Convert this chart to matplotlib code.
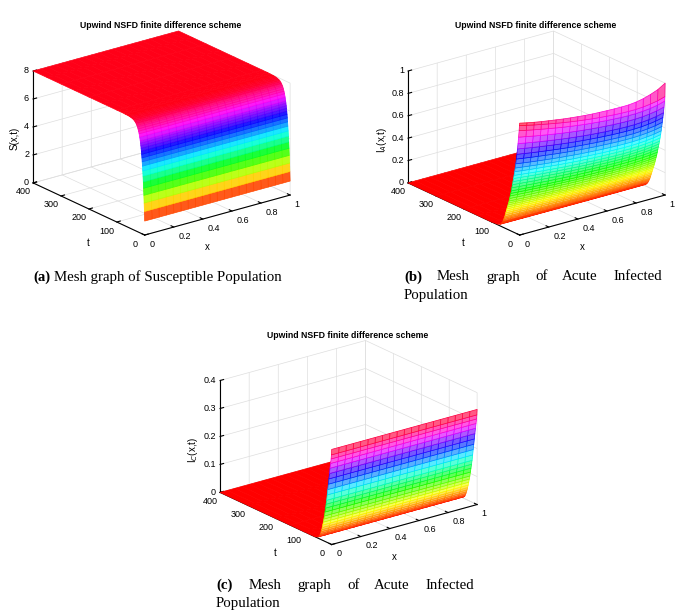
import numpy as np
import matplotlib
matplotlib.use("Agg")
import matplotlib.pyplot as plt
from matplotlib import colors

W, H = 680, 614
plt.rcParams['font.family'] = ['Liberation Sans', 'DejaVu Sans']

# mesh grid along x
x_grid = np.linspace(0, 1, 21)

# ---- (a) S(x,t): same profile for every x
t_S = [0, 1, 2, 3, 4, 5, 6, 7, 8, 9, 10, 11, 12, 13, 14, 15, 16, 18, 20, 22, 24,
       26, 28, 30, 33, 36, 40, 45, 50, 55, 60, 70, 80, 100, 150, 200, 250, 300, 350, 400]
S_t = [1.00, 1.67, 2.27, 2.81, 3.31, 3.75, 4.16, 4.52, 4.85, 5.15, 5.42, 5.67, 5.89,
       6.09, 6.27, 6.44, 6.59, 6.84, 7.05, 7.22, 7.36, 7.48, 7.57, 7.65, 7.74, 7.81,
       7.87, 7.92, 7.95, 7.97, 7.98, 7.99, 8.0, 8.0, 8.0, 8.0, 8.0, 8.0, 8.0, 8.0]

# ---- (b) I_A(x,t)
t_IA = [0, 1, 2, 4, 6, 8, 10, 12, 14, 16, 18, 20, 22, 24, 26, 28, 30, 32, 34, 36, 38,
        40, 42, 44, 46, 48, 50, 52, 54, 56, 58, 60, 65, 70, 80, 100, 150, 200, 300, 400]
IA_t = [1.0, 0.976, 0.93, 0.87, 0.81, 0.76, 0.71, 0.665, 0.62, 0.58, 0.545, 0.51, 0.48,
        0.45, 0.42, 0.39, 0.36, 0.335, 0.31, 0.285, 0.26, 0.24, 0.22, 0.2, 0.18, 0.16,
        0.14, 0.12, 0.1, 0.085, 0.07, 0.055, 0.03, 0.015, 0.005, 0.0, 0.0, 0.0, 0.0, 0.0]
IA_x = [1.0, 0.985, 0.97, 0.956, 0.943, 0.93, 0.918, 0.907, 0.897, 0.888, 0.88, 0.873,
        0.867, 0.862, 0.858, 0.856, 0.856, 0.86, 0.868, 0.88, 0.9]
IA_init = [1.0, 0.985, 0.972, 0.96, 0.95, 0.94, 0.93, 0.922, 0.915, 0.908, 0.903, 0.9,
           0.897, 0.895, 0.894, 0.895, 0.902, 0.915, 0.935, 0.96, 1.0]

# ---- (c) I_C(x,t): same profile for every x
t_IC = [0, 1, 2, 4, 6, 8, 10, 12, 14, 16, 18, 20, 22, 24, 26, 28, 30, 32, 34, 36, 38,
        40, 42, 44, 48, 55, 60, 80, 100, 150, 200, 300, 400]
IC_t = [0.34, 0.32, 0.305, 0.288, 0.27, 0.25, 0.23, 0.21, 0.19, 0.17, 0.15, 0.135,
        0.12, 0.105, 0.09, 0.078, 0.066, 0.055, 0.045, 0.036, 0.028, 0.021, 0.015,
        0.01, 0.005, 0.002, 0.0, 0.0, 0.0, 0.0, 0.0, 0.0, 0.0]

x_ticks = [0, 0.2, 0.4, 0.6, 0.8, 1]
x_ticklabels = ['0', '0.2', '0.4', '0.6', '0.8', '1']
t_ticks = [0, 100, 200, 300, 400]
t_ticklabels = ['0', '100', '200', '300', '400']
title = 'Upwind NSFD finite difference scheme'


def mesh(ax, t, Z, light):
    X, T = np.meshgrid(x_grid, t)
    zc = (Z[:-1, :-1] + Z[1:, :-1] + Z[:-1, 1:] + Z[1:, 1:]) / 4
    norm = colors.Normalize(Z.min(), Z.max())
    ec = plt.cm.hsv(norm(zc)).reshape(-1, 4)
    # only the narrow rows of the steep part show white between the lines
    dt = np.diff(np.asarray(t, float))
    wl = np.where(dt <= 2, light, 0.0)
    wl = np.repeat(wl, len(x_grid) - 1)[:, None]
    fc = ec.copy()
    fc[:, :3] = fc[:, :3] * (1 - wl) + wl
    surf = ax.plot_surface(X, T, Z, color='w', shade=False, linewidth=0.5,
                           rstride=1, cstride=1)
    surf.set_facecolor(fc)
    surf.set_edgecolor(ec)


def setup(ax, zmax, zticks):
    ax.set_proj_type('ortho')
    ax.view_init(elev=21, azim=-127.5)
    ax.set_box_aspect((1, 1, 0.654))
    ax.set_xlim(0, 1)
    ax.set_ylim(0, 400)
    ax.set_zlim(0, zmax)
    ax.set_xticks(x_ticks)
    ax.set_yticks(t_ticks)
    ax.set_zticks(zticks)
    # labels are written by hand further down, MATLAB style
    ax.set_xticklabels([])
    ax.set_yticklabels([])
    ax.set_zticklabels([])
    for a in (ax.xaxis, ax.yaxis, ax.zaxis):
        a.set_pane_color((1, 1, 1, 0))
        a.pane.set_edgecolor('#d9d9d9')
        a._axinfo['grid']['color'] = '#dedede'
        a._axinfo['grid']['linewidth'] = 0.5
        a._axinfo['tick']['inward_factor'] = 0.0
        a._axinfo['tick']['outward_factor'] = 0.3


def to_px(ax, pts):
    ax.apply_aspect()
    M = ax.get_proj()
    p = np.c_[np.asarray(pts, float), np.ones(len(pts))]
    h = p @ M.T
    return ax.transData.transform(h[:, :2] / h[:, 3:4])


def place(ax, zmax, targets):
    # move the square axes so the box corners land where they are in the picture
    px = to_px(ax, [[0, 0, 0], [1, 0, 0], [0, 400, 0], [0, 400, zmax]])
    bb = ax.get_position()
    c0 = np.array([(bb.x0 + bb.x1) / 2 * W, (bb.y0 + bb.y1) / 2 * H])
    d0 = bb.width * W
    g = (px - c0) / d0
    tg = np.array([[x, H - y] for x, y in targets])
    A = []
    b = []
    for i in range(len(g)):
        A.append([1, 0, g[i, 0]]); b.append(tg[i, 0])
        A.append([0, 1, g[i, 1]]); b.append(tg[i, 1])
    cx, cy, d = np.linalg.lstsq(np.array(A), np.array(b), rcond=None)[0]
    ax.set_position([(cx - d / 2) / W, (cy - d / 2) / H, d / W, d / H])


def tick_labels(ax, zmax, zticks, zlabels):
    fs = 6.5
    p = to_px(ax, [[0, 400, v] for v in zticks])
    for (px, py), s in zip(p, zlabels):
        fig.text((px - 4) / W, py / H, s, fontsize=fs, ha='right', va='center')
    p = to_px(ax, [[0, v, 0] for v in t_ticks])
    for (px, py), s in zip(p, t_ticklabels):
        fig.text((px - 10) / W, (py - 9) / H, s, fontsize=fs, ha='center', va='center')
    p = to_px(ax, [[v, 0, 0] for v in x_ticks])
    for (px, py), s in zip(p, x_ticklabels):
        fig.text((px + 4.5) / W, (py - 9) / H, s, fontsize=fs, ha='left', va='center')


fig = plt.figure(figsize=(6.8, 6.14), dpi=100)

base = [(145, 235), (290, 195), (33, 183), (33, 71)]
offsets = [(0, 0), (375, 0), (187, 309.5)]

# (a)
S = np.array(S_t)[:, None] * np.ones(len(x_grid))[None, :]
# (b)
IA = np.array(IA_t)[:, None] * np.array(IA_x)[None, :]
IA[0, :] = IA_init
# (c)
IC = np.array(IC_t)[:, None] * np.ones(len(x_grid))[None, :]

panels = [
    (t_S, S, 8, [0, 2, 4, 6, 8], ['0', '2', '4', '6', '8'], 'S(x,t)', (15, 138), 0.1),
    (t_IA, IA, 1, [0, 0.2, 0.4, 0.6, 0.8, 1], ['0', '0.2', '0.4', '0.6', '0.8', '1'],
     r'I$_A$(x,t)', (382, 140), 0.35),
    (t_IC, IC, 0.4, [0, 0.1, 0.2, 0.3, 0.4], ['0', '0.1', '0.2', '0.3', '0.4'],
     r'I$_C$(x,t)', (193, 450), 0.35),
]

for (t, Z, zmax, zt, zl, zname, zpos, light), (ox, oy) in zip(panels, offsets):
    ax = fig.add_axes([0.05, 0.05, 0.4, 0.4 * W / H], projection='3d')
    setup(ax, zmax, zt)
    mesh(ax, t, Z, light)
    place(ax, zmax, [(x + ox, y + oy) for x, y in base])
    tick_labels(ax, zmax, zt, zl)
    # axis names
    fig.text(zpos[0] / W, 1 - zpos[1] / H, zname, rotation=90, fontsize=7,
             ha='center', va='center')
    fig.text((88 + ox) / W, 1 - (243 + oy) / H, 't', fontsize=7, ha='center', va='center')
    fig.text((207 + ox) / W, 1 - (247 + oy) / H, 'x', fontsize=7, ha='center', va='center')

# titles
for cx, cy in [(161, 26), (536, 25), (348, 335)]:
    fig.text(cx / W, 1 - cy / H, title, ha='center', va='center',
             fontsize=6.3, fontweight='bold')

serif = ['Liberation Serif', 'DejaVu Serif']
cap = 10.7

# (a) caption
fig.text(33 / W, 1 - 277 / H, '(a)', family=serif, fontsize=cap, fontweight='bold',
         ha='left', va='center')
fig.text(54 / W, 1 - 277 / H, 'Mesh graph of Susceptible Population', family=serif,
         fontsize=cap, ha='left', va='center')

# (b) and (c) captions, justified lines
words = ['Mesh', 'graph', 'of', 'Acute', 'Infected']
b_pos = [437, 486, 535, 562, 613]
c_pos = [249, 297, 347, 374, 425]
for lab, x0, pos, y1, y2 in [('(b)', 404, b_pos, 277, 295), ('(c)', 216, c_pos, 585.5, 603)]:
    fig.text(x0 / W, 1 - y1 / H, lab, family=serif, fontsize=cap, fontweight='bold',
             ha='left', va='center')
    for w, xp in zip(words, pos):
        fig.text(xp / W, 1 - y1 / H, w, family=serif, fontsize=cap, ha='left', va='center')
    fig.text(x0 / W, 1 - y2 / H, 'Population', family=serif, fontsize=cap,
             ha='left', va='center')

fig.savefig('out.png', dpi=100)
